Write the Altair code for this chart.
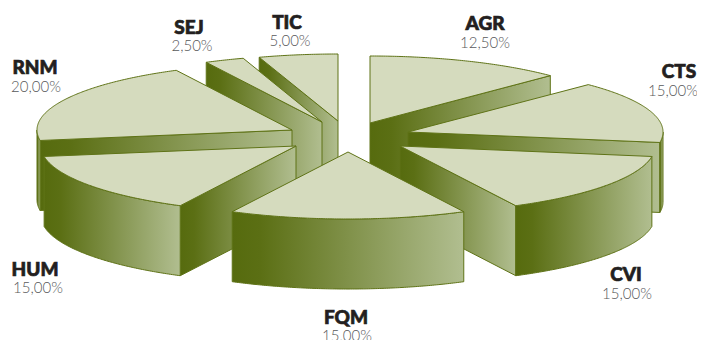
import math
import altair as alt

NAMES = ["AGR", "CTS", "CVI", "FQM", "HUM", "RNM", "SEJ", "TIC"]
VALUES = [12.5, 15, 15, 15, 15, 20, 2.5, 5]
VALUE_LABELS = ["12,50%", "15,00%", "15,00%", "15,00%", "15,00%", "20,00%", "2,50%", "5,00%"]

# layout of the exploded 3-D pie (page pixels)
APEX = {"AGR": (370, 123), "CTS": (408, 132), "CVI": (400, 146), "FQM": (348, 152),
        "HUM": (296, 146), "RNM": (292, 130), "SEJ": (322, 122), "TIC": (338, 121)}
RX, RY, DEPTH = 255, 67, 70
DRAW_ORDER = ["TIC", "SEJ", "AGR", "RNM", "CTS", "HUM", "CVI", "FQM"]
NAME_POS = {"AGR": (485, 24), "CTS": (679, 72), "CVI": (626, 275), "FQM": (346, 318),
            "HUM": (35, 270), "RNM": (35, 68), "SEJ": (189, 28), "TIC": (287, 23)}
VALUE_POS = {"AGR": (485, 43), "CTS": (673, 91), "CVI": (627, 294), "FQM": (347, 336),
             "HUM": (38, 288), "RNM": (36, 87), "SEJ": (192, 46), "TIC": (290, 41)}

OFF = 8
EDGE = "#5f7317"
TOP = "#d5dbbe"
GRAD = alt.LinearGradient(
    gradient="linear", x1=0, x2=1, y1=0, y2=0,
    stops=[alt.GradientStop(offset=0, color="#566b0e"),
           alt.GradientStop(offset=0.12, color="#5b6f14"),
           alt.GradientStop(offset=1, color="#b1be90")],
)
PROJ = dict(type="identity", scale=1, translate=[-OFF, -OFF])


def pt(name, deg, drop=0):
    ax, ay = APEX[name]
    r = math.radians(deg)
    return [ax + RX * math.sin(r), ay - RY * math.cos(r) + drop]


def arc(name, a, b, drop=0):
    n = max(2, int(abs(b - a)) * 2)
    return [pt(name, a + (b - a) * i / n, drop) for i in range(n + 1)]


def poly_layer(rings, fill):
    feats = [{"type": "Feature", "properties": {},
              "geometry": {"type": "Polygon", "coordinates": [r + [r[0]]]}} for r in rings]
    data = alt.InlineData(values={"type": "FeatureCollection", "features": feats},
                          format=alt.DataFormat(property="features", type="json"))
    return alt.Chart(data).mark_geoshape(fill=fill, stroke=EDGE, strokeWidth=1,
                                         strokeJoin="round").project(**PROJ)


starts, acc = {}, 0.0
for nm, v in zip(NAMES, VALUES):
    starts[nm] = (acc / sum(VALUES) * 360, (acc + v) / sum(VALUES) * 360)
    acc += v

layers = []
for nm in DRAW_ORDER:
    a, b = starts[nm]
    ax, ay = APEX[nm]
    walls = []
    if b < 180:  # end radial face looks at the viewer
        e = pt(nm, b)
        walls.append([[ax, ay], e, [e[0], e[1] + DEPTH], [ax, ay + DEPTH]])
    if a >= 180:  # start radial face looks at the viewer
        s = pt(nm, a)
        walls.append([s, [ax, ay], [ax, ay + DEPTH], [s[0], s[1] + DEPTH]])
    lo, hi = max(a, 90), min(b, 270)
    if lo < hi:  # outer rim
        walls.append(arc(nm, lo, hi) + arc(nm, hi, lo, DEPTH))
    if walls:
        layers.append(poly_layer(walls, GRAD))
    layers.append(poly_layer([[[ax, ay]] + arc(nm, a, b)], TOP))

name_rows = [{"t": n, "x": NAME_POS[n][0] - OFF, "y": NAME_POS[n][1] - OFF} for n in NAMES]
val_rows = [{"t": l, "x": VALUE_POS[n][0] - OFF, "y": VALUE_POS[n][1] - OFF}
            for n, l in zip(NAMES, VALUE_LABELS)]


def text_layer(rows, **mk):
    return alt.Chart(alt.Data(values=rows)).mark_text(baseline="middle", align="center", **mk).encode(
        x=alt.X("x:Q", scale=None, axis=None),
        y=alt.Y("y:Q", scale=None, axis=None),
        text="t:N",
    )


layers.append(text_layer(name_rows, font="Lato", fontWeight=900, fontSize=19, color="#231f20",
                         stroke="#231f20", strokeWidth=0.7))
layers.append(text_layer(val_rows, font="Lato", fontWeight=300, fontSize=15, color="#58595b"))

chart = alt.layer(*layers).properties(
    width=689, height=334, padding=0, autosize=alt.AutoSizeParams(type="none")
).configure_view(stroke=None)

chart.save("out.html", embed_options={"renderer": "svg", "actions": False})
